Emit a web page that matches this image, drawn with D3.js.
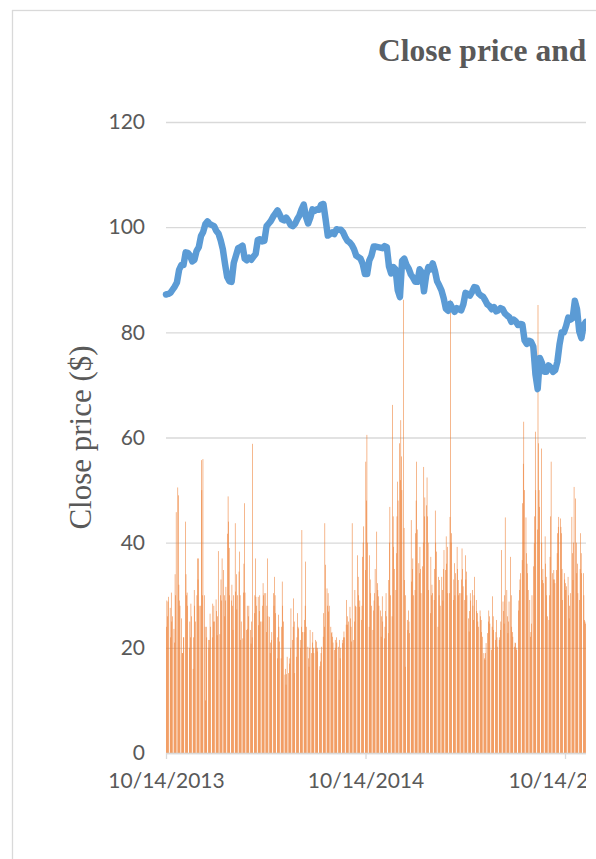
<!DOCTYPE html>
<html><head><meta charset="utf-8">
<script src="https://cdn.jsdelivr.net/npm/d3@7"></script>
<style>html,body{margin:0;padding:0;background:#fff;overflow:hidden}</style>
</head><body><div id="chart"></div>
<script>
// ---------- data ----------
const chartTitle = "Close price and";
const yAxisTitle = "Close price ($)";
const yTickValues = [0, 20, 40, 60, 80, 100, 120];
const xTickDates = ["2013-10-14", "2014-10-14", "2015-10-14"];
const xTickLabels = ["10/14/2013", "10/14/2014", "10/14/2"];

// close price, sampled every 4 calendar days starting 2013-10-14
const priceStart = "2013-10-14";
const priceStepDays = 4;
const closePrice = [
  87.2, 87.3, 87.5, 88.1, 88.7, 89.5, 91.9, 92.8, 92.8, 95.2,
  95.1, 94.6, 93.5, 93.8, 95.5, 96.2, 98.3, 99.1, 100.6, 101.1,
  100.6, 100.4, 100.2, 99.3, 98.8, 97.5, 95.8, 93, 90.5, 89.7,
  89.6, 93.2, 94.6, 96, 96.2, 96.5, 94, 93.7, 94.2, 93.8,
  94.4, 94.9, 97.6, 97.7, 97.3, 97.4, 100.2, 100.7, 101.2, 102,
  102.6, 103.2, 102.4, 101.5, 101.3, 101.8, 101.2, 100.4, 100.2, 100.6,
  101.5, 102.2, 103.4, 104.3, 102, 100.7, 101.8, 103.4, 103.1, 103.4,
  103.3, 104.3, 104.4, 101.5, 98.4, 98.7, 99, 98.7, 99.6, 99.5,
  99.5, 99, 98.1, 97.4, 97.1, 96.6, 95.8, 94.6, 94.3, 94,
  93, 91.1, 91.1, 93.7, 94.6, 96.3, 96.3, 96.2, 96.1, 96,
  96.4, 96.2, 92.5, 91.2, 92.4, 92, 88, 86.7, 93.6, 94,
  92.8, 92.1, 91, 90.4, 89.6, 89.6, 92, 91.4, 87.8, 90.8,
  92.4, 92, 93.1, 91.7, 89.7, 88.9, 88, 86.5, 84.5, 84.1,
  85.4, 84.6, 83.9, 84.6, 84.4, 84.2, 85.3, 87.5, 87.3, 87,
  87.7, 88.6, 88.5, 87.4, 87, 86.8, 86.1, 85.3, 85, 84.4,
  84.8, 84, 84.2, 84.6, 84.4, 83.6, 83.2, 82.9, 82, 82.4,
  82.1, 81.4, 81.6, 81.5, 78.5, 77.8, 78.4, 78.2, 77.3, 72,
  69.2, 75.1, 74.1, 72.5, 72.5, 73.7, 73.3, 72.5, 72.8, 74.4,
  77.7, 80, 80, 81.2, 82.8, 82.4, 82.7, 86, 84.4, 80.2,
  78.9, 81.3, 82
];

// daily volume (trading days Mon-Fri from 2013-10-14), in units of the left axis
const volumeStart = "2013-10-14";
const volume = [
  24, 29, 26, 28.8, 29.7,   27.6, 22, 30.5, 25, 26,   23.6, 21, 34, 30, 45.8,
  50.5, 49, 32, 29, 28,   25.6, 19, 19, 22, 22,   44, 34, 30, 30.5, 28,
  20, 25, 22, 28.4, 26,   16, 22, 31, 28, 25,   30, 37, 33, 37, 28,
  28, 55.7, 50, 30, 55.9,   30, 24, 10, 24, 22,   21.5, 20, 21.5, 26.5, 24,
  22, 28.4, 25, 28, 25,   29.2, 27, 22.4, 26, 38.4,   22.6, 30, 33, 29, 37,
  34.8, 30, 26, 29, 31.6,   41.7, 48.8, 44, 39, 30,   29, 32, 28, 23.4, 30,
  43.7, 30.7, 34, 27.3, 30,   34.5, 38.3, 30, 21.5, 25,   21.8, 30.5, 36, 47.5, 30.5,
  23.4, 28, 23.6, 26, 28,   23.4, 20.8, 25, 22, 58.8,   26.6, 30, 37, 29.7, 28,
  29.7, 24.3, 27, 30, 25,   25, 28, 32.3, 30, 30.4,   30.4, 23, 28, 37, 26,
  25.9, 19, 21, 21.5, 23,   30.4, 28, 33.5, 30, 26.6,   18, 22, 26.3, 24, 21.2,
  18, 24, 32.6, 28, 25,   14.9, 16, 13, 15, 18.3,   15.2, 17, 18, 20, 27.5,
  21.5, 24, 29.4, 25, 15.2,   18.3, 22, 26.6, 24, 23.7,   21.5, 20, 24, 42.4, 23,
  23, 25.3, 28, 36.4, 24,   20.2, 18, 16.4, 20, 23.4,   19, 21, 23, 20, 19,
  21.5, 20, 21.2, 19.3, 20,   15.8, 16.5, 17.4, 19, 20.2,   22.1, 26.6, 24, 43.7, 35.8,
  31.3, 28, 30.4, 26.9, 28,   24, 22.8, 23, 22.1, 21,   19.6, 21.5, 20, 22, 21,
  20.2, 13.9, 21.5, 18, 20,   20.9, 21.5, 22, 23.1, 22,   24.4, 29.1, 26, 24.4, 25,
  27.8, 25.6, 24, 21.2, 43.7,   21.5, 25, 31, 28, 27.8,   37.6, 33.5, 30, 27.8, 29,
  25.3, 28, 37.3, 40, 43.1,   34.8, 55.4, 48, 60.5, 40,   24, 37.6, 33, 30.4, 28,
  23.4, 27.1, 29, 30.4, 35,   42.1, 32.3, 31, 29.8, 28,   27.1, 22.1, 26, 29.8, 25,
  21.8, 24, 27, 30.4, 26,   22.8, 32.9, 40, 46.8, 30,   26, 66.2, 45, 39.2, 35,
  31, 38, 45, 51.6, 48,   58.9, 51.9, 63.3, 56.4, 50,   86.2, 42.8, 32.9, 16.4, 30,
  25.3, 23.4, 27.1, 25, 22.8,   44.3, 32.6, 35, 37, 30,   31, 41.8, 48, 55.4, 42.5,
  36.1, 34.2, 39.2, 35, 30.4,   35.5, 40, 54.4, 45, 48.6,   47.1, 52.4, 45, 40, 31,
  26.6, 37.3, 30, 32, 30.4,   29.1, 35, 46.1, 40, 38.3,   24, 33.5, 30, 32.9, 28,
  33.5, 31, 29, 35, 38.6,   34.8, 41.2, 36, 39.2, 30.4,   30.4, 44.9, 86.2, 40, 41.8,
  29.1, 33, 36.1, 30, 34.2,   39.2, 35, 32.9, 30, 30.4,   30.4, 33, 38.9, 35, 31.7,
  29.1, 37.6, 33, 34.5, 30,   25.6, 23.1, 27, 30.4, 29,   31, 28, 25.3, 30, 33.5,
  29.1, 27, 26.6, 25, 24,   27.1, 26, 25.3, 23, 22.1,   19, 18, 17.7, 19, 20.9,
  22.8, 25, 27.1, 26, 24.6,   19.6, 24, 29.8, 26, 23.4,   21.5, 23, 25.3, 22, 20.2,
  21.5, 22, 23.4, 25, 38.6,   28.8, 27, 24.6, 30, 44.8,   31, 26, 22.8, 25, 28.8,
  37.3, 30, 24, 23, 22.1,   20.2, 21, 20.9, 20, 19.6,   27.1, 29, 31, 33, 34.2,
  36.7, 47.5, 55, 63, 50,   44.8, 38, 36, 34.2, 31,   29.1, 22.1, 23, 24.6, 30,
  35.5, 39.9, 45, 61.1, 50,   42.5, 85.2, 58.9, 50, 46.8,   57.9, 40, 32.9, 35, 32.3,
  41.2, 36, 33.5, 30, 26,   25.3, 30, 37.3, 45, 55.4,   34.2, 33, 34.8, 33, 32.3,
  34.8, 38, 41.8, 43, 44.9,   44.6, 43, 41.8, 35, 29.1,   34.2, 33, 32.3, 31, 31.7,
  33.5, 30, 25.6, 28, 30.4,   44.9, 38, 32.9, 40, 50.6,   48.4, 40, 34.2, 36, 30.4,
  29.1, 35, 41.8, 38, 34.2,   34.2, 30, 25.3, 25, 24.6,   24, 26, 23, 25, 24
];

// ---------- drawing ----------
const W = 596, H = 859;
const plotLeft = 166, plotRight = 586, plotTop = 122, plotBottom = 753;
const parse = d3.utcParse("%Y-%m-%d");

const svg = d3.select("#chart").append("svg")
  .attr("width", W).attr("height", H)
  .style("display", "block");

// chart frame
svg.append("rect")
  .attr("x", 12.5).attr("y", 10.5).attr("width", 800).attr("height", 900)
  .attr("fill", "none").attr("stroke", "#d9d9d9").attr("stroke-width", 1.3);

svg.append("defs").append("clipPath").attr("id", "cut")
  .append("rect").attr("x", 0).attr("y", 0).attr("width", plotRight).attr("height", H);

const g = svg.append("g").attr("clip-path", "url(#cut)");

const x = d3.scaleUtc()
  .domain([parse(xTickDates[0]), parse(xTickDates[2])])
  .range([plotLeft, 565]);
const y = d3.scaleLinear().domain([0, 120]).range([plotBottom, plotTop]);

// gridlines + y labels
const yAxis = d3.axisLeft(y).tickValues(yTickValues)
  .tickSize(-(plotRight - plotLeft)).tickPadding(21).tickFormat(d3.format("d"));
const yg = g.append("g").attr("transform", `translate(${plotLeft},0)`).call(yAxis);
yg.select(".domain").remove();
yg.selectAll(".tick line").attr("stroke", "#d9d9d9").attr("stroke-width", 1.3);
yg.selectAll(".tick text").attr("fill", "#595959")
  .style("font-family", "Lato, 'Open Sans', sans-serif").style("font-size", "21px");

// trading days
const tradingDays = [];
for (let d = parse(volumeStart); tradingDays.length < volume.length; d = d3.utcDay.offset(d, 1)) {
  const wd = d.getUTCDay();
  if (wd !== 0 && wd !== 6) tradingDays.push(d);
}
const volData = volume.map((v, i) => ({ date: tradingDays[i], v }));
const bw = 0.55;
g.append("g").selectAll("rect").data(volData).join("rect")
  .attr("x", d => x(d.date) + 0.05)
  .attr("width", bw)
  .attr("y", d => y(d.v))
  .attr("height", d => y(0) - y(d.v))
  .attr("fill", "#ED7D31");

// x axis
const xAxis = d3.axisBottom(x)
  .tickValues(xTickDates.map(parse))
  .tickFormat((d, i) => xTickLabels[i])
  .tickSize(6).tickSizeOuter(0).tickPadding(14);
const xg = g.append("g").attr("transform", `translate(0,${plotBottom})`).call(xAxis);
xg.select(".domain").attr("stroke", "#d9d9d9").attr("stroke-width", 1.3)
  .attr("d", `M${plotLeft},0.5H${plotRight}`);
xg.selectAll(".tick line").attr("stroke", "#d9d9d9").attr("stroke-width", 1.3);
xg.selectAll(".tick text").attr("fill", "#595959")
  .style("font-family", "Lato, 'Open Sans', sans-serif").style("font-size", "21px");
// last label is truncated by the chart's right edge in the reference: left-align it at its start
xg.selectAll(".tick text").filter((d, i) => i === 2)
  .attr("text-anchor", "start").attr("x", 508 - x(parse(xTickDates[2])));

// price line
const priceData = closePrice.map((v, i) => ({ date: d3.utcDay.offset(parse(priceStart), i * priceStepDays), v }));
g.append("path").datum(priceData)
  .attr("fill", "none").attr("stroke", "#5B9BD5").attr("stroke-width", 6.5)
  .attr("stroke-linejoin", "round").attr("stroke-linecap", "round")
  .attr("d", d3.line().x(d => x(d.date)).y(d => y(d.v)));

// titles
g.append("text").attr("x", 378).attr("y", 61)
  .attr("fill", "#595959")
  .style("font-family", "'Liberation Serif', 'Times New Roman', serif")
  .style("font-size", "31.5px").style("font-weight", "bold")
  .text(chartTitle);

g.append("text")
  .attr("transform", `translate(91,${(plotTop + plotBottom) / 2}) rotate(-90)`)
  .attr("text-anchor", "middle").attr("fill", "#595959")
  .style("font-family", "'Liberation Serif', 'Times New Roman', serif")
  .style("font-size", "31px")
  .text(yAxisTitle);
</script>
</body></html>
